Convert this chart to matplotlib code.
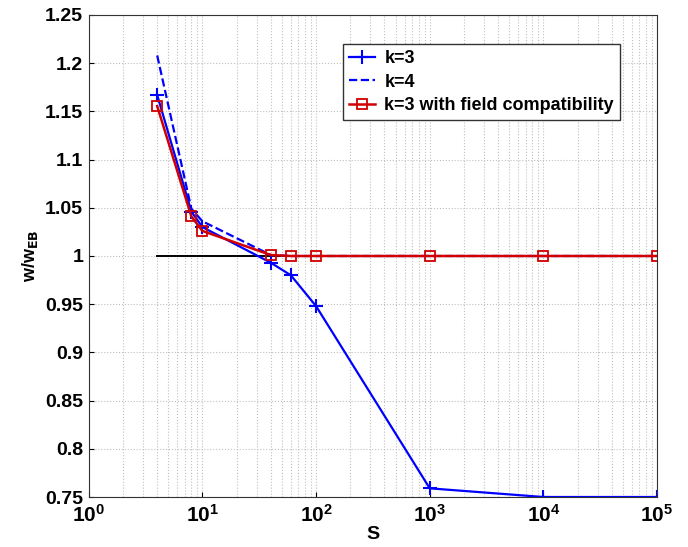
import numpy as np
import matplotlib
matplotlib.use("Agg")
import matplotlib.pyplot as plt

plt.rcParams['font.family'] = ['Liberation Sans', 'DejaVu Sans']
plt.rcParams['font.weight'] = 'bold'

s_vals = [4, 8, 10, 40, 60, 100, 1000, 10000, 100000]
k3 = [1.167, 1.046, 1.030, 0.993, 0.980, 0.948, 0.759, 0.750, 0.750]
k4 = [1.208, 1.049, 1.036, 1.001, 1.000, 1.000, 1.000, 1.000, 1.000]
k3_field = [1.1555, 1.041, 1.026, 1.001, 1.000, 1.000, 1.000, 1.000, 1.000]
ref_x = [4, 100000]
ref_y = [1.0, 1.0]

fig = plt.figure(figsize=(6.88, 5.47), dpi=100)
ax = fig.add_axes([0.129, 0.0914, 0.826, 0.8812])

ax.plot(ref_x, ref_y, color="black", lw=1.4)
ax.plot(s_vals, k3, color="blue", marker="+", ms=10, mew=1.5, lw=1.6, label="k=3")
ax.plot(s_vals, k4, color="blue", ls="--", lw=1.6, label="k=4")
ax.plot(s_vals, k3_field, color="#d00000", marker="s", ms=7, mfc="none",
        mew=1.3, lw=1.8, label="k=3 with field compatibility")

ax.set_xscale("log")
ax.set_xlim(1, 1e5)
ax.set_ylim(0.75, 1.25)
ax.set_yticks(np.arange(0.75, 1.2501, 0.05))
ax.set_yticklabels(["0.75", "0.8", "0.85", "0.9", "0.95", "1", "1.05", "1.1", "1.15", "1.2", "1.25"])
ax.grid(True, which="major", ls=":", color="#c0c0c0", lw=0.8)
ax.grid(True, which="minor", axis="x", ls=":", color="#c0c0c0", lw=0.8)
ax.tick_params(axis="y", labelsize=14, direction="in", which="both", pad=4)
ax.tick_params(axis="x", labelsize=15, direction="in", which="both", pad=5)
ax.tick_params(which="minor", length=0)
for sp in ax.spines.values():
    sp.set_color("#333333")

ax.set_xlabel("S", fontsize=14, fontweight="bold", labelpad=0)
ax.set_ylabel(r"w/w$_{\mathbf{EB}}$", fontsize=13, fontweight="bold")

leg = ax.legend(loc="upper left", bbox_to_anchor=(0.447, 0.940), fontsize=13,
                fancybox=False, edgecolor="#333333", framealpha=1,
                borderpad=0.35, labelspacing=0.35, handlelength=1.45,
                handletextpad=0.5, borderaxespad=0)
leg.get_frame().set_linewidth(1.0)

fig.savefig("out.png", dpi=100, facecolor="white")
